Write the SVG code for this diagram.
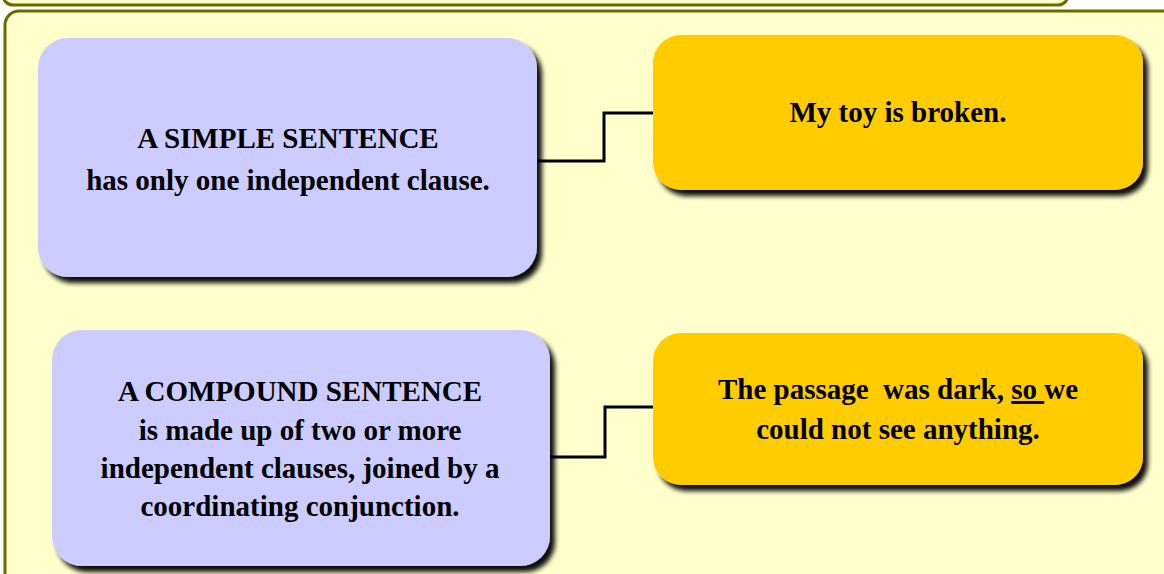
<svg xmlns="http://www.w3.org/2000/svg" width="1164" height="574" viewBox="0 0 1164 574">
<defs>
<filter id="sh" x="-10%" y="-10%" width="125%" height="130%">
<feGaussianBlur in="SourceAlpha" stdDeviation="2.5" result="b"/>
<feOffset in="b" dx="5" dy="6" result="o"/>
<feComponentTransfer in="o" result="d"><feFuncA type="linear" slope="0.95"/></feComponentTransfer>
<feMerge><feMergeNode in="d"/><feMergeNode in="SourceGraphic"/></feMerge>
</filter>
</defs>
<style>
.panel{fill:#ffffcc;stroke:#6b6b00;stroke-width:3}
.lav{fill:#ccccff}
.gold{fill:#ffcc00}
.t{font-family:"Liberation Serif","Times New Roman",serif;font-weight:bold;font-size:29px;fill:#000;text-anchor:middle}
.c{fill:none;stroke:#000;stroke-width:3}
</style>
<rect width="1164" height="574" fill="#ffffff"/>
<rect class="panel" x="3" y="-40" width="1065" height="45" rx="10"/>
<rect class="panel" x="5" y="11" width="1180" height="600" rx="14"/>
<g id="connectors">
<polyline class="c" points="537,161 604,161 604,113 655,113"/>
<polyline class="c" points="550,457 605,457 605,407 655,407"/>
</g>
<g id="node-simple">
<rect class="lav" x="38" y="38" width="499" height="239" rx="30" filter="url(#sh)"/>
<text class="t" x="288" y="148">A SIMPLE SENTENCE</text>
<text class="t" x="288" y="190">has only one independent clause.</text>
</g>
<g id="node-simple-example">
<rect class="gold" x="653" y="35" width="490" height="155" rx="28" filter="url(#sh)"/>
<text class="t" x="898" y="122">My toy is broken.</text>
</g>
<g id="node-compound">
<rect class="lav" x="52" y="330" width="498" height="236" rx="30" filter="url(#sh)"/>
<text class="t" x="300" y="401">A COMPOUND SENTENCE</text>
<text class="t" x="300" y="440">is made up of two or more</text>
<text class="t" x="300" y="478">independent clauses, joined by a</text>
<text class="t" x="300" y="516">coordinating conjunction.</text>
</g>
<g id="node-compound-example">
<rect class="gold" x="653" y="333" width="490" height="152" rx="28" filter="url(#sh)"/>
<text class="t" x="898" y="399" xml:space="preserve">The passage  was dark, <tspan text-decoration="underline">so </tspan>we</text>
<text class="t" x="898" y="439">could not see anything.</text>
</g>
</svg>
